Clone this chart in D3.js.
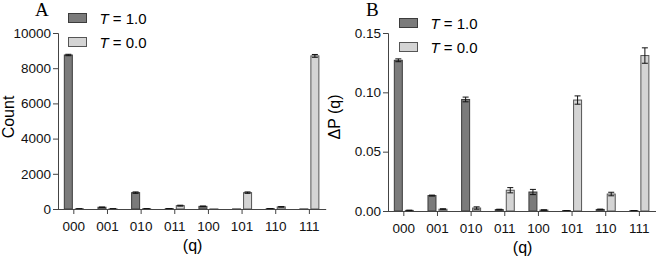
<!DOCTYPE html>
<html>
<head>
<meta charset="utf-8">
<script src="https://cdn.jsdelivr.net/npm/d3@7"></script>
<style>
  body { margin: 0; background: #fff; }
  svg { display: block; }
  .axis text { font-family: "Liberation Sans", Arial, sans-serif; font-size: 13.5px; fill: #111; }
  .axis path, .axis line { stroke: #444; stroke-width: 1; }
</style>
</head>
<body>
<div id="chart"></div>
<script>
var width = 656;
var height = 259;

// categories (measured states)
var states = ["000", "001", "010", "011", "100", "101", "110", "111"];

// panel A: counts
var countHot = [8750, 100, 930, 20, 150, 5, 20, 5];
var countHotErr = [40, 10, 40, 5, 20, 0, 5, 0];
var countCold = [10, 10, 15, 190, 5, 930, 120, 8700];
var countColdErr = [5, 5, 5, 25, 0, 40, 15, 80];
var countTicks = [0, 2000, 4000, 6000, 8000, 10000];

// panel B: ΔP(q)
var dpHot = [0.127, 0.013, 0.094, 0.0012, 0.016, 0.0003, 0.0013, 0.0003];
var dpHotErr = [0.0012, 0.0004, 0.002, 0.0003, 0.0022, 0.0001, 0.0003, 0.0001];
var dpCold = [0.0005, 0.0015, 0.0025, 0.0175, 0.0008, 0.0935, 0.0143, 0.131];
var dpColdErr = [0.0002, 0.0004, 0.001, 0.0022, 0.0002, 0.0035, 0.0015, 0.0065];
var dpTicks = [0, 0.05, 0.10, 0.15];

var seriesNames = ["1.0", "0.0"];
var fills = ["#7b7b7b", "#d4d4d4"];
var strokes = ["#3c3c3c", "#555"];

var svg = d3.select("#chart").append("svg")
  .attr("width", width)
  .attr("height", height);

function panel(opt) {
  var step = 33.65;
  var x = d3.scaleBand()
    .domain(states)
    .range([opt.x0 - 1, opt.x0 - 1 + step * states.length]);
  var y = d3.scaleLinear()
    .domain([0, opt.max])
    .range([opt.yBottom, opt.yTop]);

  var g = svg.append("g");

  // bars
  var series = [
    { vals: opt.hot, errs: opt.hotErr, off: -9.5, i: 0 },
    { vals: opt.cold, errs: opt.coldErr, off: 1.5, i: 1 }
  ];
  series.forEach(function(s) {
    var bw = 8;
    var rows = states.map(function(q, k) { return { q: q, v: s.vals[k], e: s.errs[k] }; });
    var cx = function(d) { return x(d.q) + x.bandwidth() / 2 + s.off; };

    g.selectAll(null)
      .data(rows)
      .enter().append("rect")
      .attr("x", cx)
      .attr("y", function(d) { return y(d.v); })
      .attr("width", bw)
      .attr("height", function(d) { return Math.max(0, y(0) - y(d.v)); })
      .attr("fill", fills[s.i])
      .attr("stroke", strokes[s.i])
      .attr("stroke-width", 1);

    var eb = g.selectAll(null)
      .data(rows.filter(function(d) { return d.e > 0; }))
      .enter().append("g")
      .attr("stroke", "#111")
      .attr("stroke-width", 1);
    eb.append("line")
      .attr("x1", function(d) { return cx(d) + bw / 2; })
      .attr("x2", function(d) { return cx(d) + bw / 2; })
      .attr("y1", function(d) { return y(d.v + d.e); })
      .attr("y2", function(d) { return y(Math.max(0, d.v - d.e)); });
    eb.append("line")
      .attr("x1", function(d) { return cx(d) + bw / 2 - 3; })
      .attr("x2", function(d) { return cx(d) + bw / 2 + 3; })
      .attr("y1", function(d) { return y(d.v + d.e); })
      .attr("y2", function(d) { return y(d.v + d.e); });
    eb.append("line")
      .attr("x1", function(d) { return cx(d) + bw / 2 - 3; })
      .attr("x2", function(d) { return cx(d) + bw / 2 + 3; })
      .attr("y1", function(d) { return y(Math.max(0, d.v - d.e)); })
      .attr("y2", function(d) { return y(Math.max(0, d.v - d.e)); });
  });

  // axes
  var xAxis = g.append("g")
    .attr("class", "axis")
    .attr("transform", "translate(0," + opt.yBottom + ")")
    .call(d3.axisBottom(x).tickSizeOuter(0).tickSize(5).tickPadding(7));
  xAxis.select(".domain").attr("d", "M" + (opt.x0 - 5) + ",0.5H" + (opt.x0 - 1 + step * states.length));

  g.append("g")
    .attr("class", "axis")
    .attr("transform", "translate(" + opt.x0 + ",0)")
    .call(d3.axisLeft(y).tickValues(opt.ticks).tickFormat(opt.fmt).tickSizeOuter(0).tickSize(5).tickPadding(2));

  // axis titles
  g.append("text")
    .attr("x", opt.x0 + step * 4)
    .attr("y", opt.yBottom + 42)
    .attr("text-anchor", "middle")
    .style("font-family", "Liberation Sans, Arial, sans-serif")
    .style("font-size", "16px")
    .text("(q)");

  g.append("text")
    .attr("transform", "translate(" + opt.labelX + ",117) rotate(-90)")
    .attr("text-anchor", "middle")
    .style("font-family", "Liberation Sans, Arial, sans-serif")
    .style("font-size", "16px")
    .text(opt.label);

  // panel letter
  g.append("text")
    .attr("x", opt.letterX)
    .attr("y", 16)
    .style("font-family", "Liberation Serif, Times New Roman, serif")
    .style("font-size", "19px")
    .text(opt.letter);

  // legend
  var leg = g.selectAll(".leg")
    .data(seriesNames)
    .enter().append("g")
    .attr("transform", function(d, i) { return "translate(" + opt.legX + "," + (opt.legY + i * 24) + ")"; });
  leg.append("rect")
    .attr("width", 18)
    .attr("height", 9)
    .attr("fill", function(d, i) { return fills[i]; })
    .attr("stroke", function(d, i) { return strokes[i]; });
  var t = leg.append("text")
    .attr("x", 31)
    .attr("y", 10)
    .style("font-family", "Liberation Sans, Arial, sans-serif")
    .style("font-size", "15px");
  t.append("tspan").style("font-style", "italic").text("T");
  t.append("tspan").text(function(d) { return " = " + d; });
}

panel({
  x0: 58, yBottom: 209, yTop: 33, max: 10000,
  hot: countHot, hotErr: countHotErr, cold: countCold, coldErr: countColdErr,
  ticks: countTicks, fmt: d3.format("d"),
  label: "Count", labelX: 14, letter: "A", letterX: 35,
  legX: 68.5, legY: 13.5
});

panel({
  x0: 388, yBottom: 211, yTop: 33, max: 0.15,
  hot: dpHot, hotErr: dpHotErr, cold: dpCold, coldErr: dpColdErr,
  ticks: dpTicks, fmt: d3.format(".2f"),
  label: "\u0394P (q)", labelX: 340, letter: "B", letterX: 366,
  legX: 399.5, legY: 18.5
});
</script>
</body>
</html>
